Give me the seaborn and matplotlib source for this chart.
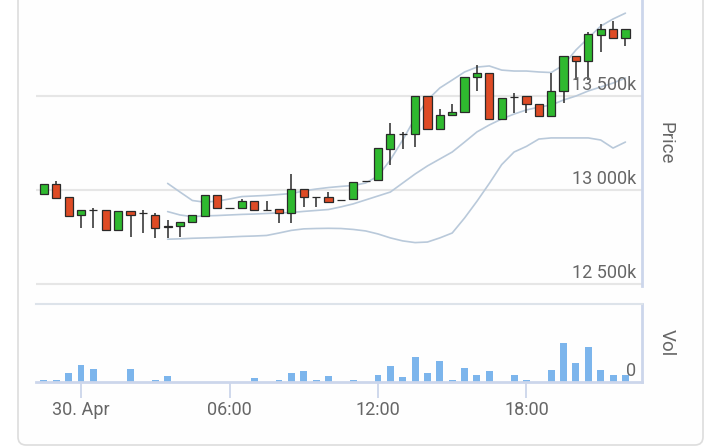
import numpy as np
import pandas as pd
import matplotlib
matplotlib.use("Agg")
import matplotlib.pyplot as plt
import seaborn as sns
from matplotlib.patches import FancyBboxPatch

# half-hour candles, 29 Apr 22:30 .. 30 Apr 22:00
times = pd.date_range("2024-04-29 22:30", periods=48, freq="30min")

open_ = [12977, 13030, 12961, 12867, 12894, 12894, 12787, 12888, 12878, 12867,
         12807, 12810, 12828, 12863, 12973, 12904, 12903, 12941, 12894, 12897,
         12876, 13004, 12961, 12961, 12947, 12950, 13048, 13053, 13218, 13298,
         13298, 13500, 13323, 13399, 13416, 13603, 13624, 13376, 13496, 13500,
         13456, 13395, 13528, 13713, 13686, 13824, 13855, 13807]
close = [13030, 12959, 12863, 12894, 12891, 12787, 12888, 12867, 12875, 12799,
         12803, 12828, 12867, 12973, 12903, 12902, 12941, 12894, 12892, 12876,
         13004, 12961, 12960, 12938, 12945, 13044, 13046, 13222, 13298, 13296,
         13500, 13323, 13399, 13416, 13603, 13624, 13376, 13491, 13495, 13456,
         13395, 13528, 13713, 13686, 13828, 13855, 13807, 13855]
high = [13030, 13048, 12961, 12894, 12906, 12894, 12888, 12888, 12894, 12878,
        12840, 12828, 12867, 12973, 12973, 12905, 12952, 12941, 12943, 12897,
        13083, 13004, 12961, 12991, 12947, 13044, 13048, 13222, 13355, 13310,
        13500, 13500, 13429, 13456, 13603, 13665, 13624, 13491, 13514, 13500,
        13456, 13624, 13713, 13713, 13839, 13883, 13900, 13855]
low = [12977, 12959, 12863, 12799, 12799, 12787, 12787, 12752, 12771, 12743,
       12743, 12752, 12828, 12863, 12903, 12901, 12903, 12894, 12892, 12826,
       12826, 12911, 12911, 12938, 12945, 12950, 13046, 13053, 13133, 13216,
       13227, 13323, 13323, 13399, 13416, 13528, 13376, 13376, 13408, 13408,
       13395, 13395, 13461, 13585, 13585, 13736, 13807, 13766]
volume = [23, 23, 93, 167, 127, 0, 0, 127, 0, 23,
          57, 0, 0, 0, 0, 0, 0, 40, 0, 23,
          93, 110, 23, 57, 0, 20, 0, 70, 160, 53,
          247, 90, 213, 20, 140, 70, 107, 0, 70, 20,
          0, 123, 387, 193, 350, 123, 70, 70]

# Bollinger bands, visible from the 11th candle on
bb_upper = [13035, 12989, 12944, 12935, 12941, 12952, 12965, 12968, 12971, 12976,
            12981, 12995, 13005, 13013, 13019, 13024, 13037, 13074, 13160, 13266,
            13383, 13479, 13543, 13585, 13628, 13654, 13660, 13638, 13633, 13633,
            13628, 13625, 13665, 13745, 13809, 13872, 13910, 13941]
bb_mid = [12885, 12867, 12858, 12862, 12864, 12867, 12870, 12872, 12875, 12878,
          12880, 12886, 12891, 12896, 12910, 12926, 12947, 12968, 12989, 13037,
          13085, 13128, 13165, 13202, 13255, 13309, 13346, 13378, 13404, 13426,
          13441, 13452, 13479, 13500, 13527, 13548, 13569, 13596]
bb_lower = [12738, 12740, 12743, 12745, 12747, 12750, 12753, 12755, 12758, 12771,
            12785, 12793, 12795, 12796, 12795, 12790, 12782, 12766, 12745, 12729,
            12720, 12723, 12745, 12771, 12851, 12940, 13035, 13135, 13202, 13232,
            13271, 13277, 13277, 13277, 13277, 13266, 13223, 13255]

price_ticks = [12500, 13000, 13500]
x_ticks = [0, 6, 12, 18]
x_labels = ["30. Apr", "06:00", "12:00", "18:00"]

hours = ((times - pd.Timestamp("2024-04-30")) / pd.Timedelta(hours=1)).to_numpy()
o = np.array(open_)
c = np.array(close)

green = "#2fb92f"
red = "#de4b25"
edge = "#2a2a2a"
band_col = "#b9c9da"
axis_col = "#ccd6eb"
grid_col = "#e6e6e6"
txt_col = "#666666"

sns.set_theme(style="white")
plt.rcParams["font.family"] = ["Roboto", "DejaVu Sans"]

W, H = 714, 447
fig = plt.figure(figsize=(W / 100, H / 100), dpi=100)
fig.patch.set_facecolor("white")

bg = fig.add_axes([0, 0, 1, 1], zorder=-10)
bg.set_xlim(0, W)
bg.set_ylim(H, 0)
bg.axis("off")
bg.add_patch(FancyBboxPatch((18, -20), 685, 465,
                            boxstyle="round,pad=0,rounding_size=8",
                            fc="#fefefe", ec="#dddddd", lw=1.2))

xlim = (-1.82, 22.67)

# price panel
ax = fig.add_axes([36 / W, 1 - 286 / H, 606 / W, 286 / H])
ax.set_facecolor("none")
for v in price_ticks:
    ax.axhline(v, color=grid_col, lw=1.5, zorder=0)
    ax.annotate(f"{v:,}".replace(",", " ") + "k", xy=(1, v),
                xycoords=("axes fraction", "data"), xytext=(-4, 1.5),
                textcoords="offset points", ha="right", va="bottom",
                color=txt_col, fontsize=13, zorder=6)

for band in (bb_upper, bb_mid, bb_lower):
    sns.lineplot(x=hours[10:], y=band, ax=ax, color=band_col, lw=1.2, zorder=2)

colors = np.where(c >= o, green, red)
ax.vlines(hours, low, high, colors=edge, lw=1.1, zorder=3)
ax.bar(hours, c - o, bottom=o, width=0.33, color=colors, edgecolor=edge,
       lw=0.9, zorder=4)

ax.set_xlim(xlim)
ax.set_ylim(12489, 14011)
ax.set_xticks([])
ax.set_yticks([])
ax.set_xlabel("")
ax.set_ylabel("")
for s in ("left", "top", "bottom"):
    ax.spines[s].set_visible(False)
ax.spines["right"].set_color(axis_col)
ax.spines["right"].set_linewidth(2)

fig.text(665 / W, 1 - 143 / H, "Price", rotation=270, ha="center", va="center",
         color=txt_col, fontsize=13.5)

# volume panel
vax = fig.add_axes([36 / W, 1 - 382 / H, 606 / W, 78 / H])
vax.set_facecolor("none")
sns.barplot(x=hours, y=volume, native_scale=True, ax=vax, color="#7cb5ec",
            saturation=1, width=0.56, errorbar=None, linewidth=0)
vax.set_xlim(xlim)
vax.set_ylim(0, 780)
vax.set_xticks(x_ticks)
vax.set_xticklabels(x_labels)
vax.set_yticks([])
vax.set_xlabel("")
vax.set_ylabel("")
vax.tick_params(axis="x", bottom=True, length=11.5, width=1.3, color=axis_col,
                labelsize=13, labelcolor=txt_col, pad=2, direction="out")
vax.spines["left"].set_visible(False)
vax.spines["top"].set_color("#dde3ea")
vax.spines["top"].set_linewidth(1.5)
for s in ("right", "bottom"):
    vax.spines[s].set_color(axis_col)
    vax.spines[s].set_linewidth(2)
vax.annotate("0", xy=(1, 0), xycoords="axes fraction", xytext=(-4, 1.5),
             textcoords="offset points", ha="right", va="bottom",
             color=txt_col, fontsize=13)

fig.text(667 / W, 1 - 343 / H, "Vol", rotation=270, ha="center", va="center",
         color=txt_col, fontsize=13.5)

fig.savefig("out.png", dpi=100)
